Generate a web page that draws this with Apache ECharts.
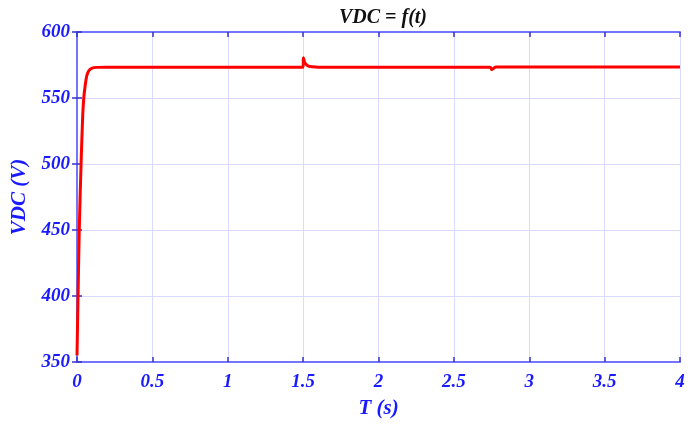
<!DOCTYPE html>
<html>
<head>
<meta charset="utf-8">
<script src="https://cdn.jsdelivr.net/npm/echarts@6/dist/echarts.min.js"></script>
<style>
  html, body { margin: 0; padding: 0; background: #ffffff; }
  #chart { width: 688px; height: 425px; }
</style>
</head>
<body>
<div id="chart"></div>
<script>
// DC bus voltage transient: start-up, a load step at 1.5 s and a small dip at 2.75 s
var timeS = [0, 0.007, 0.015, 0.027, 0.038, 0.045, 0.055, 0.065, 0.08, 0.1, 0.13, 0.2,
             1.5, 1.502, 1.51, 1.52, 1.535, 1.56, 1.6,
             2.74, 2.752, 2.762, 2.78, 2.85, 4];
var vdc   = [355, 400, 450, 500, 537, 550, 560, 567, 571, 572.7, 573.2, 573.3,
             573.3, 580.5, 577, 575.5, 574.2, 573.6, 573.3,
             573.3, 571.5, 572.4, 573.5, 573.4, 573.4];

var xTicks = { min: 0, max: 4, step: 0.5 };
var yTicks = { min: 350, max: 600, step: 50 };

var points = timeS.map(function (t, i) { return [t, vdc[i]]; });

var axisBlue = '#7474ff';
var labelBlue = '#1a1aff';
var gridBlue = '#dadaff';
var serif = '"Liberation Serif", "DejaVu Serif", serif';

var tickLabelStyle = {
  color: labelBlue, fontFamily: serif, fontWeight: 'bold', fontStyle: 'italic', fontSize: 19
};
var nameStyle = {
  color: labelBlue, fontFamily: serif, fontWeight: 'bold', fontStyle: 'italic', fontSize: 21
};
var tickStyle = { show: true, inside: true, length: 5, lineStyle: { color: '#3333cc', width: 1.5 } };

var chart = echarts.init(document.getElementById('chart'), null, { renderer: 'canvas' });
chart.setOption({
  animation: false,
  backgroundColor: '#ffffff',
  title: {
    text: 'VDC = f(t)',
    left: 378, top: 3, textAlign: 'center',
    textStyle: { color: '#111111', fontFamily: serif, fontWeight: 'bold', fontStyle: 'italic', fontSize: 20 }
  },
  grid: { left: 77, right: 8, top: 32, bottom: 63 },
  xAxis: [{
    type: 'value', min: xTicks.min, max: xTicks.max, interval: xTicks.step,
    name: 'T (s)', nameLocation: 'middle', nameGap: 36,
    nameTextStyle: nameStyle,
    axisLine: { show: true, onZero: false, lineStyle: { color: axisBlue, width: 2 } },
    axisTick: tickStyle,
    axisLabel: Object.assign({ margin: 11 }, tickLabelStyle),
    splitLine: { show: true, lineStyle: { color: gridBlue, width: 1 } }
  }, {
    type: 'value', position: 'top', min: xTicks.min, max: xTicks.max, interval: xTicks.step,
    axisLine: { show: true, lineStyle: { color: axisBlue, width: 2 } },
    axisTick: tickStyle,
    axisLabel: { show: false }, splitLine: { show: false }
  }],
  yAxis: [{
    type: 'value', min: yTicks.min, max: yTicks.max, interval: yTicks.step,
    name: 'VDC (V)', nameLocation: 'middle', nameGap: 47, nameRotate: 90,
    nameTextStyle: nameStyle,
    axisLine: { show: true, onZero: false, lineStyle: { color: axisBlue, width: 2 } },
    axisTick: tickStyle,
    axisLabel: Object.assign({ margin: 7 }, tickLabelStyle),
    splitLine: { show: true, lineStyle: { color: gridBlue, width: 1 } }
  }, {
    type: 'value', position: 'right', min: yTicks.min, max: yTicks.max, interval: yTicks.step,
    axisLine: { show: true, lineStyle: { color: axisBlue, width: 2 } },
    axisTick: tickStyle,
    axisLabel: { show: false }, splitLine: { show: false }
  }],
  series: [{
    type: 'line',
    data: points,
    showSymbol: false,
    smooth: 0.3,
    lineStyle: { color: '#ff0000', width: 3 },
    z: 5
  }]
});
</script>
</body>
</html>
